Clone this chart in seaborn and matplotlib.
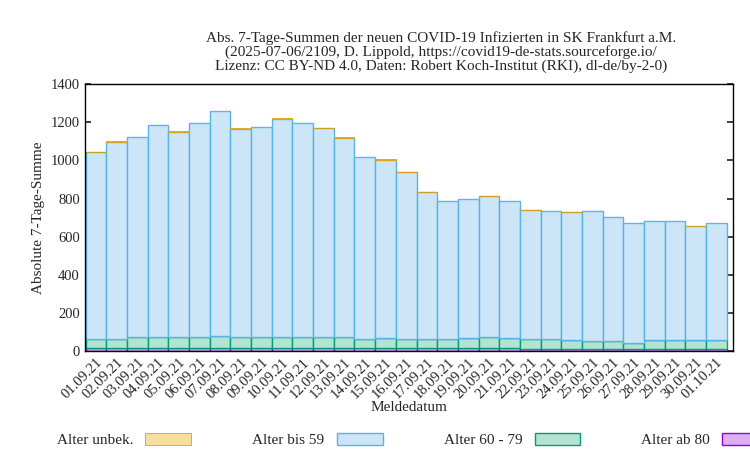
import matplotlib
matplotlib.use("Agg")
import matplotlib.pyplot as plt
import seaborn as sns
import numpy as np

sns.set_theme(style="white")
plt.rcParams['font.family'] = ['Liberation Serif', 'DejaVu Serif']

dates = ["01.09.21","02.09.21","03.09.21","04.09.21","05.09.21","06.09.21","07.09.21","08.09.21",
         "09.09.21","10.09.21","11.09.21","12.09.21","13.09.21","14.09.21","15.09.21","16.09.21",
         "17.09.21","18.09.21","19.09.21","20.09.21","21.09.21","22.09.21","23.09.21","24.09.21",
         "25.09.21","26.09.21","27.09.21","28.09.21","29.09.21","30.09.21","01.10.21"]
total = [1045,1100,1122,1185,1152,1195,1260,1168,1177,1220,1198,1172,1122,1020,1006,940,
         836,785,800,815,787,740,737,727,733,702,672,682,682,657,670]
unbek = [0,1,1,0,1,0,0,1,1,1,2,2,2,0,2,0,1,0,0,0,0,0,0,0,1,0,0,0,0,0,0]
ab80 = [15,14,15,15,15,15,17,15,15,15,15,15,16,15,15,14,14,14,14,14,14,13,12,11,11,10,9,10,10,10,10]
a6079 = [46,50,60,59,59,59,64,60,60,56,58,58,55,50,54,48,47,48,52,57,55,52,52,49,44,40,34,46,46,47,47]

bis59 = [t - u - a - b for t, u, a, b in zip(total, unbek, ab80, a6079)]

x = np.arange(len(dates))
fig, ax = plt.subplots(figsize=(7.5, 4.5), dpi=100)
fig.subplots_adjust(left=0.113, right=0.977, top=0.813, bottom=0.22)

b1 = np.array(ab80); b2 = b1 + np.array(a6079); b3 = b2 + np.array(bis59)
ax.bar(x, ab80, width=1, color="#dcb0f0", edgecolor="#9400d3", lw=1.0, label="Alter ab 80")
ax.bar(x, a6079, bottom=b1, width=1, color="#b3e3d3", edgecolor="#009e73", lw=1.0, label="Alter 60 - 79")
ax.bar(x, bis59, bottom=b2, width=1, color="#cde6f7", edgecolor="#56b4e9", lw=1.0, label="Alter bis 59")
ax.bar(x, unbek, bottom=b3, width=1, color="#f8dfa0", edgecolor="#e69f00", lw=0.6, label="Alter unbek.")

ax.set_xlim(-0.55, len(dates) - 0.5 + 0.3)
ax.set_ylim(0, 1400)
ax.set_yticks(range(0, 1401, 200))
ax.set_xticks(x)
ax.set_xticklabels(dates, rotation=45, ha="right", rotation_mode="anchor", fontsize=10.5)
ax.tick_params(axis="y", labelsize=10.5, direction="in", right=True, left=True, length=4)
ax.tick_params(axis="x", direction="in", length=4, bottom=True)
for s in ax.spines.values():
    s.set_color("black"); s.set_linewidth(1)
ax.set_ylabel("Absolute 7-Tage-Summe", fontsize=11)
ax.set_xlabel("Meldedatum", fontsize=11, labelpad=0)
ax.set_title("Abs. 7-Tage-Summen der neuen COVID-19 Infizierten in SK Frankfurt a.M.\n"
             "(2025-07-06/2109, D. Lippold, https://covid19-de-stats.sourceforge.io/\n"
             "Lizenz: CC BY-ND 4.0, Daten: Robert Koch-Institut (RKI), dl-de/by-2-0)",
             fontsize=11, linespacing=1.05, x=0.55, pad=10)

h, l = ax.get_legend_handles_labels()
order = [3, 2, 1, 0]
fig.legend([h[i] for i in order], [l[i] for i in order], loc="lower center", ncol=4,
           bbox_to_anchor=(0.55, -0.025), frameon=False, fontsize=11, markerfirst=False,
           handlelength=3.0, columnspacing=4.0, handleheight=0.8)
fig.savefig("out.png", dpi=100)
